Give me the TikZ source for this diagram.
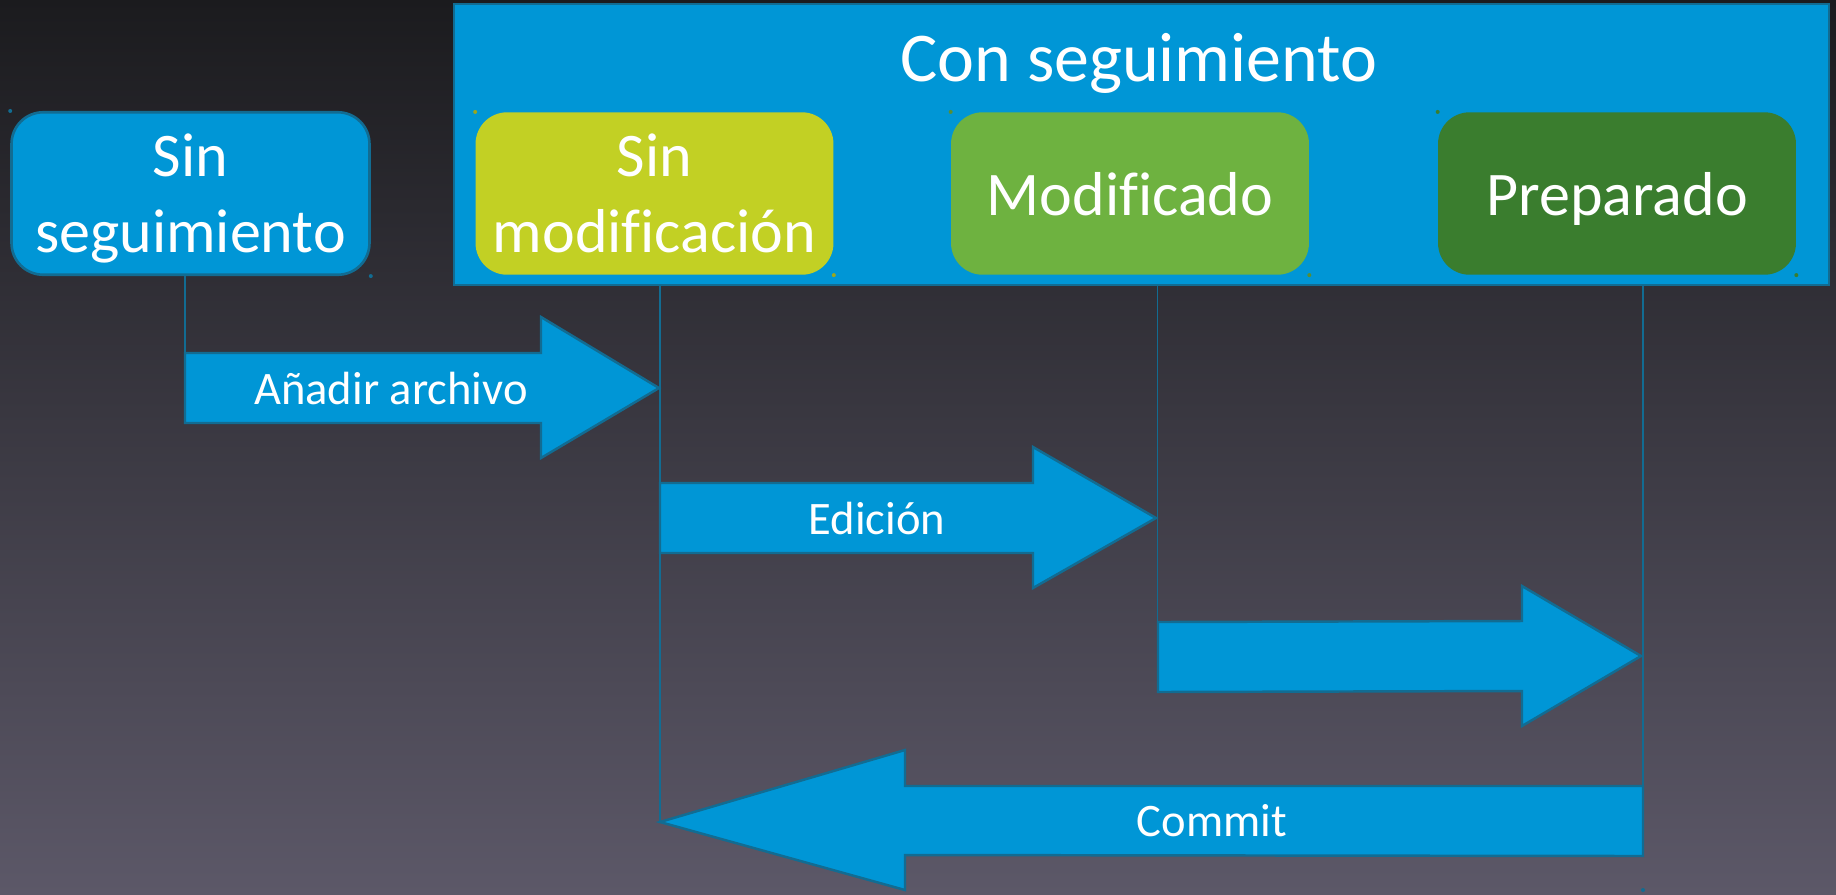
\documentclass[tikz,border=0pt]{standalone}
\usepackage{fontspec}
\setmainfont{Carlito}[Ligatures=NoCommon]
\definecolor{fondoarriba}{RGB}{27,27,30}
\definecolor{fondoabajo}{RGB}{92,88,104}
\definecolor{azul}{RGB}{0,150,214}
\definecolor{azulborde}{RGB}{18,108,146}
\definecolor{lima}{RGB}{194,208,36}
\definecolor{verde}{RGB}{110,178,64}
\definecolor{verdeoscuro}{RGB}{58,125,46}

\begin{document}
\begin{tikzpicture}[x=0.02cm, y=-0.02cm,
        estado/.style={rounded corners=18pt, minimum width=7.16cm, minimum height=3.25cm,
            inner sep=0pt, align=center, text=white, text depth=0pt,
            font=\fontsize{35.3}{43.2}\selectfont},
        flecha/.style={fill=azul, draw=azulborde, line width=1.4pt},
        linea/.style={draw=azulborde, line width=1.1pt},
        etiqueta/.style={anchor=base, inner sep=0pt, text=white,
            font=\fontsize{26.5}{30}\selectfont}]
        \useasboundingbox (0,0) rectangle (1836,894);
        \shade [top color=fondoarriba, bottom color=fondoabajo] (0,0) rectangle (1836,894);

        \node [fill=azul, draw=azulborde, line width=1.5pt, minimum width=27.5cm,
            minimum height=5.62cm, inner sep=0pt] (conseg) at (1141.5,144.5) {};
        \node [anchor=base, text=white, font=\fontsize{39.8}{44}\selectfont]
            (titulo) at (1139,81.7) {Con seguimiento};

        \node [estado, fill=azul, draw=azulborde, line width=1.5pt]
            (sinseg) at (190.5,193.5) {Sin\\seguimiento};
        \node [estado, fill=lima] (sinmod) at (654.5,193.5) {Sin\\modificación};
        \node [estado, fill=verde] (modif) at (1130,193.5) {Modificado};
        \node [estado, fill=verdeoscuro] (prep) at (1617,193.5) {Preparado};

        \fill [azulborde] (sinseg.north west) circle (2) (sinseg.south east) circle (2);
        \fill [lima!80!black] (sinmod.north west) circle (2) (sinmod.south east) circle (2);
        \fill [verde!80!black] (modif.north west) circle (2) (modif.south east) circle (2);
        \fill [verdeoscuro] (prep.north west) circle (2) (prep.south east) circle (2);

        \coordinate (A0) at (185,275);
        \coordinate (A1) at (185,353);
        \coordinate (B0) at (660,285);
        \coordinate (B1) at (660,822);
        \coordinate (C0) at (1157.5,285);
        \coordinate (C1) at (1157.5,692);
        \coordinate (D0) at (1643,285);
        \coordinate (D1) at (1643,856);
        \coordinate (D2) at (1643,890);

        \draw [linea] (A0) -- (A1);
        \draw [linea] (B0) -- (B1);
        \draw [linea] (C0) -- (C1);
        \draw [linea] (D0) -- (D1);
        \fill [azulborde] (D2) circle (2);

        \filldraw [flecha] (A1) -- (541,353) -- (541,317) -- (659,388) -- (541,458)
            -- (541,423) -- (185,423) -- cycle;
        \filldraw [flecha] (660,483) -- (1033,483) -- (1033,447) -- (1156,518) -- (1033,588)
            -- (1033,553) -- (660,553) -- cycle;
        \filldraw [flecha] (1158,622) -- (1522,621) -- (1522,586) -- (1641,656) -- (1522,726)
            -- (1522,691) -- (1158,692) -- cycle;
        \filldraw [flecha] (1643,786) -- (905,786) -- (905,750) -- (B1) -- (905,890)
            -- (905,855) -- (D1) -- cycle;

        \node [etiqueta] (anadir) at (391,404) {Añadir archivo};
        \node [etiqueta] (edicion) at (877,534) {Edición};
        \node [etiqueta] (commit) at (1212,836.7) {Commit};
        % \draw [red] (conseg.south) -- (commit);
    \end{tikzpicture}
\end{document}
